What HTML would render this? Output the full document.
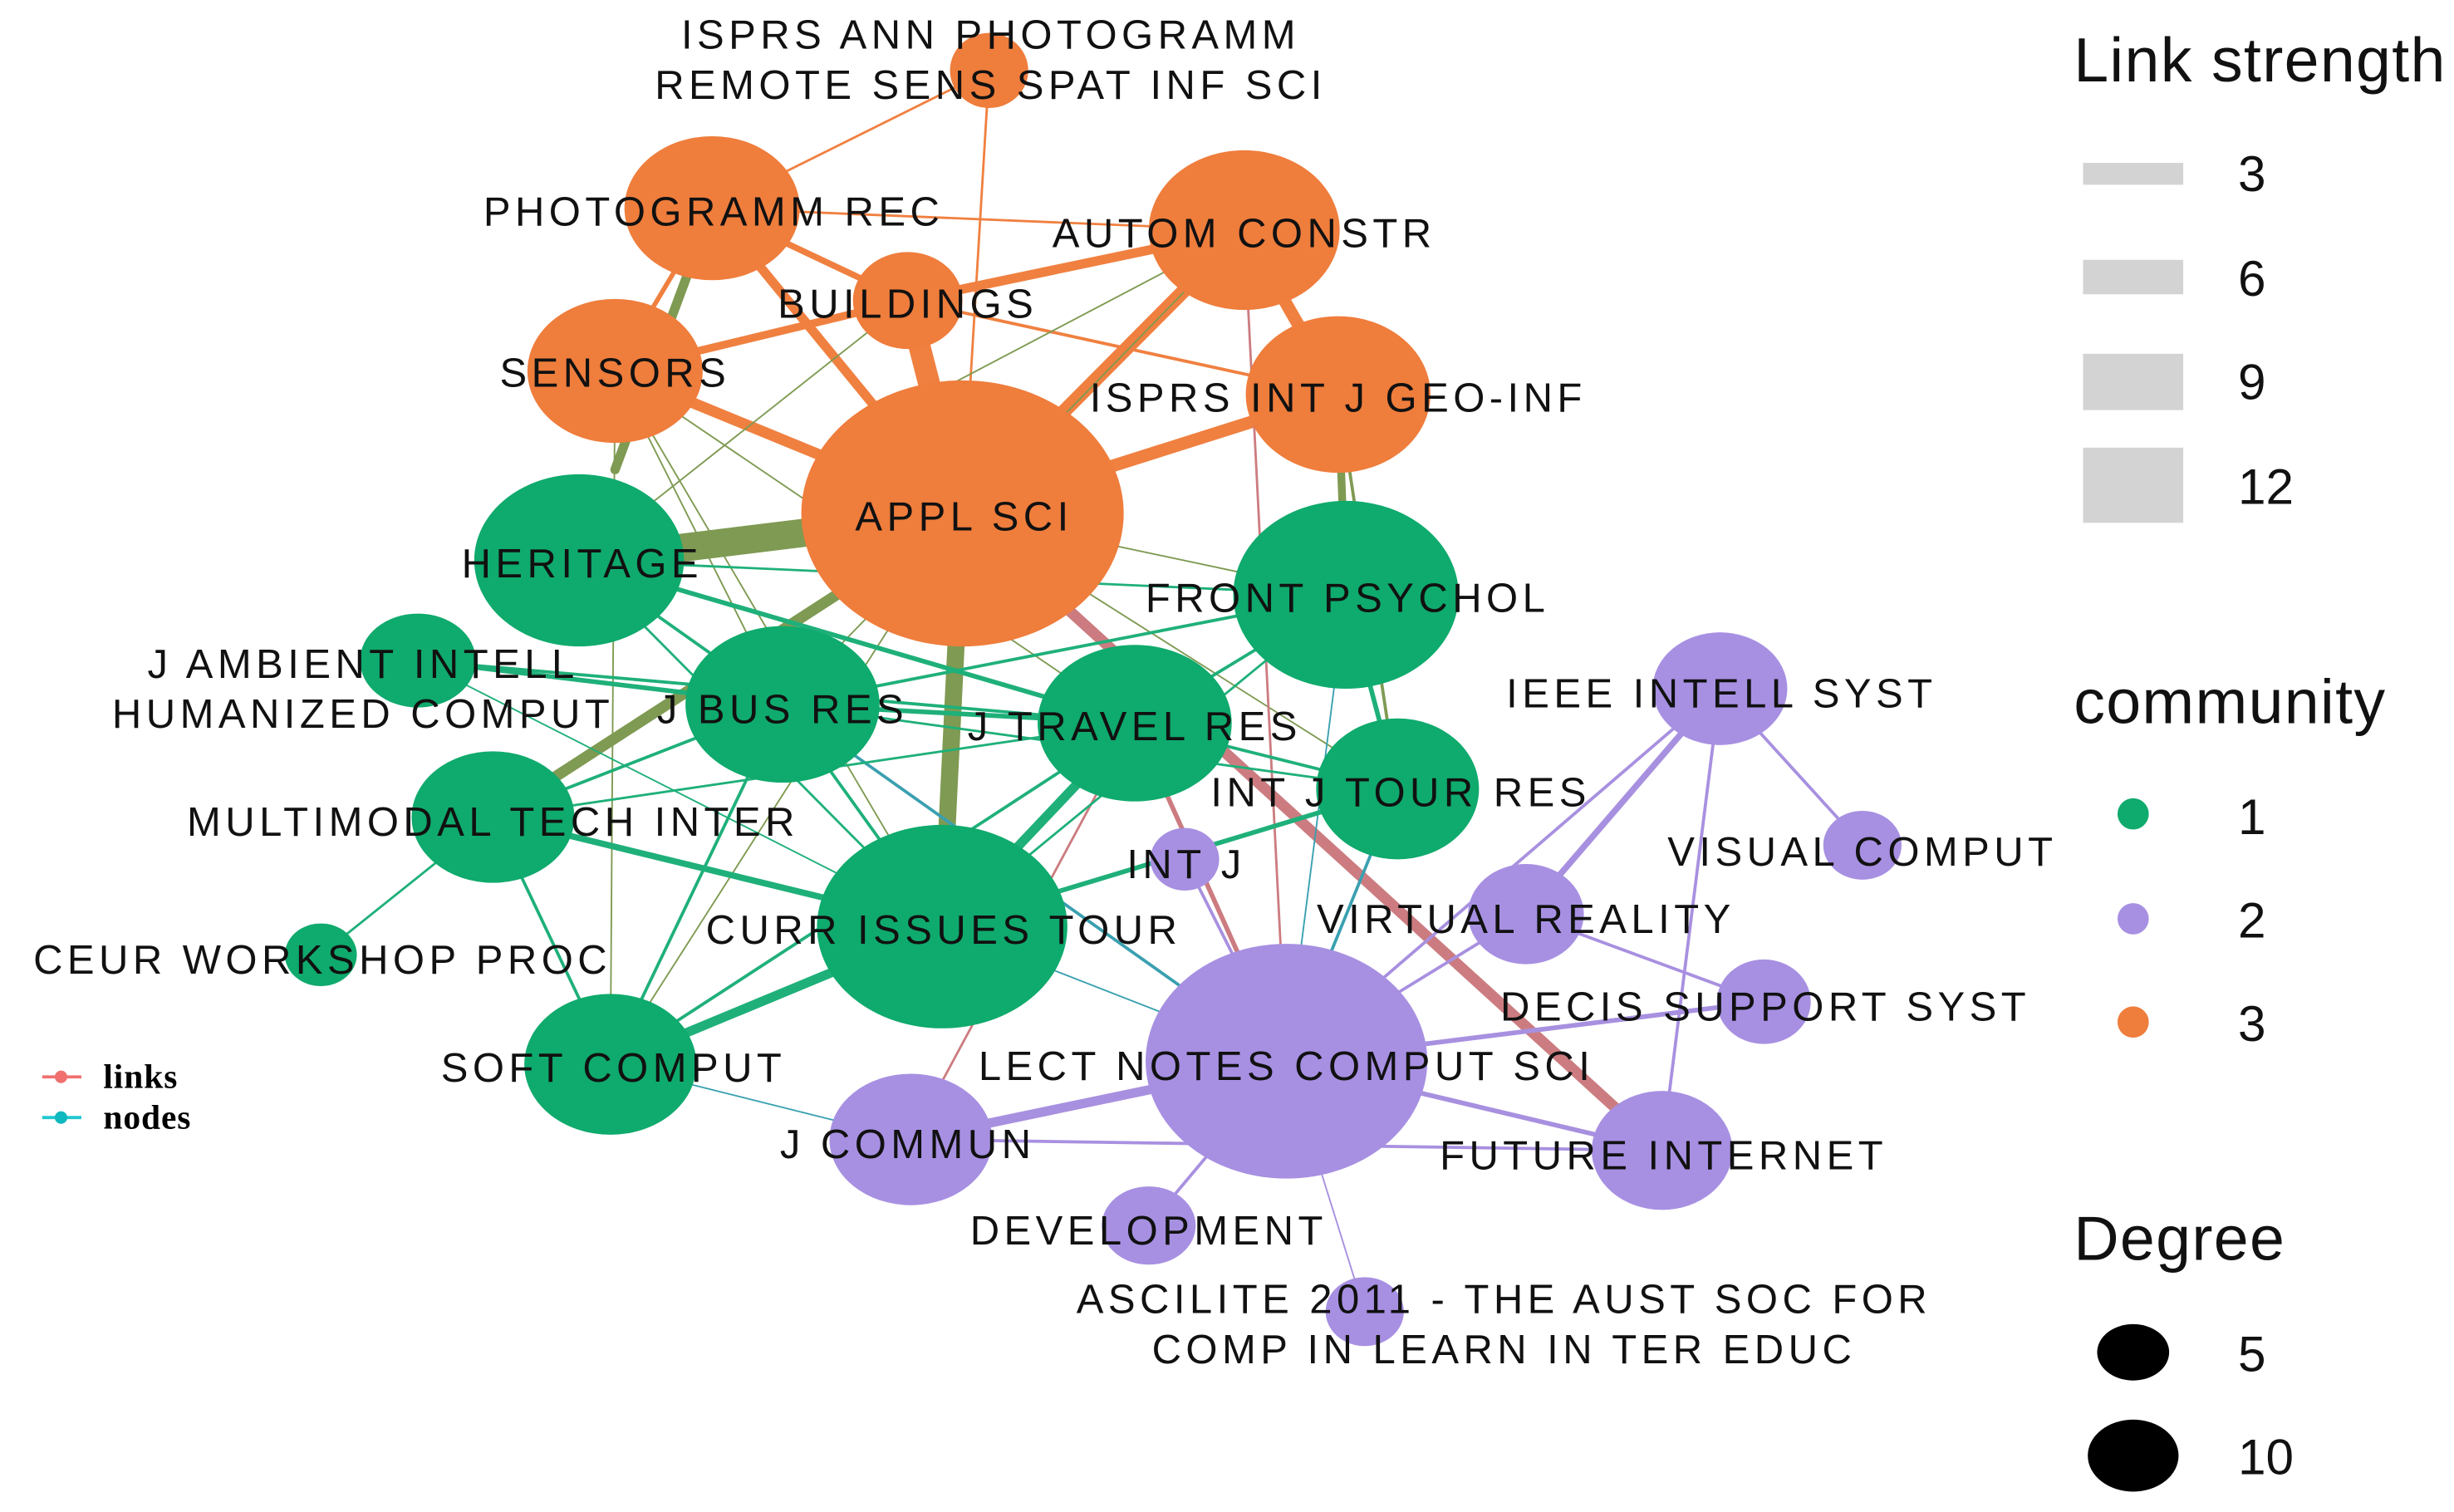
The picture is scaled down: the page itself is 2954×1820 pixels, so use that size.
<!DOCTYPE html>
<html><head><meta charset="utf-8"><style>
html,body{margin:0;padding:0;background:#fff;}
svg{display:block;}
text{font-family:"Liberation Sans",sans-serif;}
.l text{font-size:26px;fill:#111;text-anchor:middle;letter-spacing:2.9px;}
</style></head><body>
<svg width="2954" height="1820" viewBox="0 0 1568 966" xmlns="http://www.w3.org/2000/svg">
<rect width="1568" height="966" fill="#fff"/>
<g stroke-linecap="round" fill="none">
<g stroke="#f08040">
<line x1="632" y1="45" x2="455" y2="133" stroke-width="1.5"/>
<line x1="632" y1="45" x2="615" y2="328" stroke-width="1.5"/>
<line x1="455" y1="133" x2="580" y2="192" stroke-width="4"/>
<line x1="455" y1="133" x2="615" y2="328" stroke-width="6"/>
<line x1="455" y1="133" x2="393" y2="237" stroke-width="3"/>
<line x1="795" y1="147" x2="580" y2="192" stroke-width="6"/>
<line x1="795" y1="147" x2="615" y2="328" stroke-width="9"/>
<line x1="795" y1="147" x2="855" y2="252" stroke-width="8"/>
<line x1="580" y1="192" x2="393" y2="237" stroke-width="5"/>
<line x1="580" y1="192" x2="615" y2="328" stroke-width="14"/>
<line x1="580" y1="192" x2="855" y2="252" stroke-width="2"/>
<line x1="393" y1="237" x2="615" y2="328" stroke-width="7"/>
<line x1="855" y1="252" x2="615" y2="328" stroke-width="8"/>
<line x1="455" y1="133" x2="795" y2="147" stroke-width="1.5"/>
</g>
<g stroke="#7f9a52">
<line x1="370" y1="358" x2="615" y2="328" stroke-width="18"/>
<line x1="455" y1="133" x2="393" y2="300" stroke-width="6"/>
<line x1="315" y1="522" x2="615" y2="328" stroke-width="7"/>
<line x1="602" y1="592" x2="615" y2="328" stroke-width="11"/>
<line x1="860" y1="380" x2="855" y2="252" stroke-width="5"/>
<line x1="393" y1="237" x2="500" y2="450" stroke-width="1"/>
<line x1="393" y1="237" x2="725" y2="462" stroke-width="1"/>
<line x1="580" y1="192" x2="370" y2="358" stroke-width="1"/>
<line x1="795" y1="147" x2="500" y2="450" stroke-width="1"/>
<line x1="795" y1="147" x2="580" y2="260" stroke-width="1"/>
<line x1="855" y1="252" x2="893" y2="504" stroke-width="2"/>
<line x1="615" y1="328" x2="390" y2="680" stroke-width="1"/>
<line x1="393" y1="237" x2="390" y2="680" stroke-width="1"/>
<line x1="615" y1="328" x2="860" y2="380" stroke-width="1"/>
<line x1="393" y1="237" x2="602" y2="592" stroke-width="1"/>
<line x1="615" y1="328" x2="893" y2="504" stroke-width="1"/>
</g>
<g stroke="#cc7c80">
<line x1="615" y1="328" x2="1062" y2="735" stroke-width="7"/>
<line x1="795" y1="147" x2="822" y2="678" stroke-width="1.5"/>
<line x1="725" y1="462" x2="822" y2="678" stroke-width="3"/>
<line x1="725" y1="462" x2="582" y2="728" stroke-width="1.5"/>
</g>
<g stroke="#3aa0b0">
<line x1="500" y1="450" x2="822" y2="678" stroke-width="2"/>
<line x1="893" y1="504" x2="822" y2="678" stroke-width="2"/>
<line x1="390" y1="680" x2="582" y2="728" stroke-width="1"/>
<line x1="602" y1="592" x2="822" y2="678" stroke-width="1"/>
<line x1="860" y1="380" x2="822" y2="678" stroke-width="1"/>
</g>
<g stroke="#1fb07a">
<line x1="370" y1="358" x2="725" y2="462" stroke-width="3"/>
<line x1="370" y1="358" x2="500" y2="450" stroke-width="2"/>
<line x1="370" y1="358" x2="602" y2="592" stroke-width="1.5"/>
<line x1="370" y1="358" x2="860" y2="380" stroke-width="1.5"/>
<line x1="267" y1="422" x2="500" y2="450" stroke-width="3"/>
<line x1="267" y1="422" x2="725" y2="462" stroke-width="2"/>
<line x1="267" y1="422" x2="602" y2="592" stroke-width="1"/>
<line x1="315" y1="522" x2="500" y2="450" stroke-width="2"/>
<line x1="315" y1="522" x2="602" y2="592" stroke-width="4"/>
<line x1="315" y1="522" x2="725" y2="462" stroke-width="1.5"/>
<line x1="315" y1="522" x2="205" y2="610" stroke-width="1.5"/>
<line x1="390" y1="680" x2="602" y2="592" stroke-width="6"/>
<line x1="390" y1="680" x2="500" y2="450" stroke-width="2"/>
<line x1="390" y1="680" x2="725" y2="462" stroke-width="2"/>
<line x1="390" y1="680" x2="315" y2="522" stroke-width="2"/>
<line x1="602" y1="592" x2="725" y2="462" stroke-width="6"/>
<line x1="602" y1="592" x2="893" y2="504" stroke-width="3"/>
<line x1="500" y1="450" x2="725" y2="462" stroke-width="3"/>
<line x1="500" y1="450" x2="860" y2="380" stroke-width="2"/>
<line x1="725" y1="462" x2="860" y2="380" stroke-width="2"/>
<line x1="725" y1="462" x2="893" y2="504" stroke-width="2"/>
<line x1="860" y1="380" x2="893" y2="504" stroke-width="3"/>
<line x1="500" y1="450" x2="893" y2="504" stroke-width="1.5"/>
<line x1="602" y1="592" x2="500" y2="450" stroke-width="2"/>
<line x1="602" y1="592" x2="860" y2="380" stroke-width="1.5"/>
</g>
<g stroke="#a890e0">
<line x1="1099" y1="440" x2="975" y2="584" stroke-width="4"/>
<line x1="1099" y1="440" x2="822" y2="678" stroke-width="2"/>
<line x1="1099" y1="440" x2="1190" y2="540" stroke-width="2"/>
<line x1="1099" y1="440" x2="1062" y2="735" stroke-width="2"/>
<line x1="975" y1="584" x2="822" y2="678" stroke-width="2"/>
<line x1="975" y1="584" x2="1127" y2="640" stroke-width="2"/>
<line x1="1127" y1="640" x2="822" y2="678" stroke-width="3"/>
<line x1="1062" y1="735" x2="822" y2="678" stroke-width="3"/>
<line x1="582" y1="728" x2="822" y2="678" stroke-width="6"/>
<line x1="582" y1="728" x2="1062" y2="735" stroke-width="2"/>
<line x1="734" y1="783" x2="822" y2="678" stroke-width="2"/>
<line x1="872" y1="838" x2="822" y2="678" stroke-width="1"/>
<line x1="757" y1="549" x2="822" y2="678" stroke-width="2"/>
</g>
</g>
<g fill="#ef7d3c">
<ellipse cx="632" cy="45" rx="25" ry="24"/>
<ellipse cx="455" cy="133" rx="56" ry="46"/>
<ellipse cx="795" cy="147" rx="61" ry="51"/>
<ellipse cx="580" cy="192" rx="35" ry="31"/>
<ellipse cx="393" cy="237" rx="56" ry="46"/>
<ellipse cx="855" cy="252" rx="59" ry="50"/>
<ellipse cx="615" cy="328" rx="103" ry="85"/>
</g>
<g fill="#0faa6d">
<ellipse cx="370" cy="358" rx="67" ry="55"/>
<ellipse cx="860" cy="380" rx="72" ry="60"/>
<ellipse cx="267" cy="422" rx="37" ry="30"/>
<ellipse cx="500" cy="450" rx="62" ry="50"/>
<ellipse cx="725" cy="462" rx="62" ry="50"/>
<ellipse cx="893" cy="504" rx="52" ry="45"/>
<ellipse cx="315" cy="522" rx="52" ry="42"/>
<ellipse cx="602" cy="592" rx="80" ry="65"/>
<ellipse cx="205" cy="610" rx="23" ry="20"/>
<ellipse cx="390" cy="680" rx="55" ry="45"/>
</g>
<g fill="#a790e2">
<ellipse cx="757" cy="549" rx="22" ry="20"/>
<ellipse cx="1099" cy="440" rx="43" ry="36"/>
<ellipse cx="1190" cy="540" rx="25" ry="22"/>
<ellipse cx="975" cy="584" rx="37" ry="32"/>
<ellipse cx="1127" cy="640" rx="30" ry="27"/>
<ellipse cx="822" cy="678" rx="90" ry="75"/>
<ellipse cx="582" cy="728" rx="52" ry="42"/>
<ellipse cx="1062" cy="735" rx="45" ry="38"/>
<ellipse cx="734" cy="783" rx="30" ry="25"/>
<ellipse cx="872" cy="838" rx="25" ry="22"/>
</g>
<g class="l">
<text x="633" y="31">ISPRS ANN PHOTOGRAMM</text>
<text x="633" y="63">REMOTE SENS SPAT INF SCI</text>
<text x="456" y="144">PHOTOGRAMM REC</text>
<text x="795" y="158">AUTOM CONSTR</text>
<text x="580" y="203">BUILDINGS</text>
<text x="393" y="247">SENSORS</text>
<text x="855" y="263">ISPRS INT J GEO-INF</text>
<text x="616" y="339">APPL SCI</text>
<text x="372" y="369">HERITAGE</text>
<text x="861" y="391">FRONT PSYCHOL</text>
<text x="232" y="433">J AMBIENT INTELL</text>
<text x="232" y="465">HUMANIZED COMPUT</text>
<text x="500" y="462">J BUS RES</text>
<text x="725" y="473">J TRAVEL RES</text>
<text x="895" y="515">INT J TOUR RES</text>
<text x="315" y="534">MULTIMODAL TECH INTER</text>
<text x="758" y="561">INT J</text>
<text x="603" y="603">CURR ISSUES TOUR</text>
<text x="206" y="622">CEUR WORKSHOP PROC</text>
<text x="392" y="691">SOFT COMPUT</text>
<text x="1100" y="452">IEEE INTELL SYST</text>
<text x="1190" y="553">VISUAL COMPUT</text>
<text x="975" y="596">VIRTUAL REALITY</text>
<text x="1128" y="652">DECIS SUPPORT SYST</text>
<text x="822" y="690">LECT NOTES COMPUT SCI</text>
<text x="580" y="740">J COMMUN</text>
<text x="1063" y="747">FUTURE INTERNET</text>
<text x="734" y="795">DEVELOPMENT</text>
<text x="961" y="839">ASCILITE 2011 - THE AUST SOC FOR</text>
<text x="961" y="871">COMP IN LEARN IN TER EDUC</text>
</g>
<line x1="27" y1="688" x2="52" y2="688" stroke="#f07070" stroke-width="2"/><circle cx="39" cy="688" r="4" fill="#f07070"/>
<line x1="27" y1="714" x2="52" y2="714" stroke="#20c8d0" stroke-width="2"/><circle cx="39" cy="714" r="4" fill="#10b8c0"/>
<text x="66" y="695" style="font-family:'Liberation Serif',serif;font-weight:bold;font-size:22px;letter-spacing:0.5px">links</text>
<text x="66" y="721" style="font-family:'Liberation Serif',serif;font-weight:bold;font-size:22px;letter-spacing:0.5px">nodes</text>
<g style="font-size:40px;letter-spacing:0.7px" fill="#111">
<text x="1325" y="52">Link strength</text>
<text x="1325" y="462">community</text>
<text x="1325" y="805">Degree</text>
</g>
<g fill="#d3d3d3">
<rect x="1331" y="104" width="64" height="14"/>
<rect x="1331" y="166" width="64" height="22"/>
<rect x="1331" y="226" width="64" height="36"/>
<rect x="1331" y="286" width="64" height="48"/>
</g>
<g style="font-size:32px" fill="#111">
<text x="1430" y="122">3</text>
<text x="1430" y="189">6</text>
<text x="1430" y="255">9</text>
<text x="1430" y="322">12</text>
<text x="1430" y="533">1</text>
<text x="1430" y="599">2</text>
<text x="1430" y="665">3</text>
<text x="1430" y="876">5</text>
<text x="1430" y="942">10</text>
</g>
<circle cx="1363" cy="520" r="10" fill="#0faa6d"/>
<circle cx="1363" cy="587" r="10" fill="#a790e2"/>
<circle cx="1363" cy="653" r="10" fill="#ef7d3c"/>
<ellipse cx="1363" cy="864" rx="23" ry="18" fill="#000"/>
<ellipse cx="1363" cy="930" rx="29" ry="23" fill="#000"/>
</svg>
</body></html>
